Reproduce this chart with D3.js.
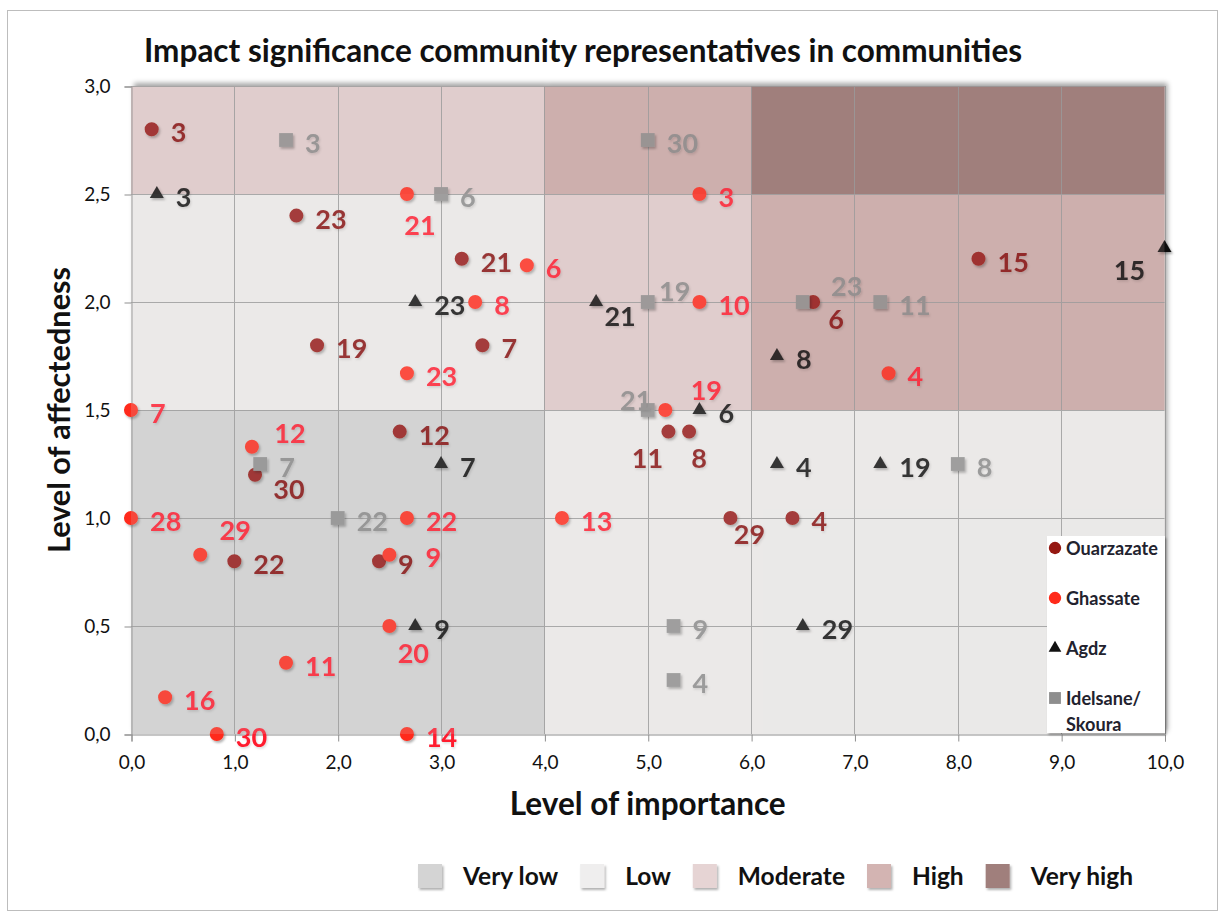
<!DOCTYPE html>
<html>
<head>
<meta charset="utf-8">
<script src="https://cdn.jsdelivr.net/npm/d3@7"></script>
<style>
  body { margin: 0; background: #fff; }
  svg { display: block; }
  text { font-family: Lato, "Open Sans", sans-serif; }
</style>
</head>
<body>
<svg id="chart" width="1222" height="915"></svg>
<script>
// Community representatives: [label, level of importance, level of affectedness]
const ouarzazate = [
  ["3", 0.2, 2.8], ["23", 1.6, 2.4], ["21", 3.2, 2.2], ["19", 1.8, 1.8], ["7", 3.4, 1.8],
  ["12", 2.6, 1.4], ["30", 1.2, 1.2], ["22", 1.0, 0.8], ["9", 2.4, 0.8], ["11", 5.2, 1.4],
  ["8", 5.4, 1.4], ["29", 5.8, 1.0], ["4", 6.4, 1.0], ["6", 6.6, 2.0], ["15", 8.2, 2.2]
];
const ghassate = [
  ["21", 2.67, 2.5], ["6", 3.83, 2.17], ["8", 3.33, 2.0], ["23", 2.67, 1.67], ["3", 5.5, 2.5],
  ["10", 5.5, 2.0], ["4", 7.33, 1.67], ["19", 5.17, 1.5], ["7", 0, 1.5], ["12", 1.17, 1.33],
  ["28", 0, 1.0], ["22", 2.67, 1.0], ["13", 4.17, 1.0], ["29", 0.67, 0.83], ["9", 2.5, 0.83],
  ["20", 2.5, 0.5], ["11", 1.5, 0.33], ["16", 0.33, 0.17], ["30", 0.83, 0], ["14", 2.67, 0]
];
const agdz = [
  ["3", 0.25, 2.5], ["23", 2.75, 2.0], ["21", 4.5, 2.0], ["15", 10, 2.25], ["8", 6.25, 1.75],
  ["6", 5.5, 1.5], ["7", 3.0, 1.25], ["4", 6.25, 1.25], ["19", 7.25, 1.25], ["9", 2.75, 0.5],
  ["29", 6.5, 0.5]
];
const idelsane = [
  ["3", 1.5, 2.75], ["6", 3.0, 2.5], ["30", 5.0, 2.75], ["19", 5.0, 2.0], ["23", 6.5, 2.0],
  ["11", 7.25, 2.0], ["21", 5.0, 1.5], ["7", 1.25, 1.25], ["22", 2.0, 1.0], ["8", 8.0, 1.25],
  ["9", 5.25, 0.5], ["4", 5.25, 0.25]
];

const seriesNames = ["Ouarzazate", "Ghassate", "Agdz", "Idelsane/ Skoura"];
const seriesData = [ouarzazate, ghassate, agdz, idelsane];

// Significance zones in data units
const zoneLevels = ["Very low", "Low", "Moderate", "High", "Very high"];
const zones = [
  { level: "Very low",  x: [0, 4],  y: [0, 1.5] },
  { level: "Low",       x: [0, 4],  y: [1.5, 2.5] },
  { level: "Low",       x: [4, 10], y: [0, 1.5] },
  { level: "Moderate",  x: [0, 4],  y: [2.5, 3] },
  { level: "Moderate",  x: [4, 6],  y: [1.5, 2.5] },
  { level: "High",      x: [4, 6],  y: [2.5, 3] },
  { level: "High",      x: [6, 10], y: [1.5, 2.5] },
  { level: "Very high", x: [6, 10], y: [2.5, 3] }
];

const xTicks = [0, 1, 2, 3, 4, 5, 6, 7, 8, 9, 10];
const yTicks = [0, 0.5, 1, 1.5, 2, 2.5, 3];

// ---- styling ----
const zoneColor = {
  "Very low": "#d3d3d3", "Low": "#ebe9e8", "Moderate": "#e0cdcd",
  "High": "#cdafad", "Very high": "#a07f7c"
};
const zoneSwatch = {
  "Very low": "#d4d4d4", "Low": "#efeeee", "Moderate": "#e6d4d4",
  "High": "#d3b4b2", "Very high": "#a07f7c"
};
const markerColor = ["#951812", "#ff2a1a", "#111111", "#8e8e8e"];
const labelColor  = ["#85110f", "#ff1a2e", "#111111", "#8a8a8a"];
const markerShape = [d3.symbolCircle, d3.symbolCircle, d3.symbolTriangle, d3.symbolSquare];
const markerSize  = [154, 154, 85, 190];

// Label centre offsets (px) for labels not sitting right of their marker
const labelNudge = {
  "Ghassate:21": [13, 31], "Agdz:15": [-35, 22], "Agdz:21": [24, 14],
  "Idelsane/ Skoura:19": [27, -11], "Idelsane/ Skoura:23": [44, -16],
  "Ouarzazate:6": [23, 17], "Ghassate:19": [41, -20], "Idelsane/ Skoura:21": [-12, -10],
  "Ouarzazate:11": [-21, 26], "Ouarzazate:8": [10, 26], "Ouarzazate:29": [19, 16],
  "Ghassate:12": [38, -14], "Ouarzazate:30": [34, 14], "Ghassate:29": [35, -25],
  "Ghassate:9": [44, 2], "Ghassate:20": [24, 27]
};

const svg = d3.select("#chart");
const defs = svg.append("defs");

const plotShadow = defs.append("filter").attr("id", "plotShadow")
  .attr("x", "-5%").attr("y", "-5%").attr("width", "110%").attr("height", "110%");
plotShadow.append("feDropShadow").attr("dx", 3).attr("dy", -3)
  .attr("stdDeviation", 2.5).attr("flood-color", "#000").attr("flood-opacity", 0.35);

const markShadow = defs.append("filter").attr("id", "markShadow")
  .attr("x", "-50%").attr("y", "-50%").attr("width", "200%").attr("height", "200%");
markShadow.append("feDropShadow").attr("dx", 1.5).attr("dy", 2)
  .attr("stdDeviation", 1.2).attr("flood-color", "#000").attr("flood-opacity", 0.3);

const textShadow = defs.append("filter").attr("id", "textShadow")
  .attr("x", "-20%").attr("y", "-20%").attr("width", "140%").attr("height", "140%");
textShadow.append("feDropShadow").attr("dx", 1).attr("dy", 1.5)
  .attr("stdDeviation", 0.8).attr("flood-color", "#000").attr("flood-opacity", 0.15);

function fitWidth(sel, target) {
  const w = sel.node().getComputedTextLength();
  const fs = parseFloat(sel.attr("font-size"));
  if (w > 0) sel.attr("font-size", (fs * target / w).toFixed(2));
  return sel;
}

// Outer frame
svg.append("rect").attr("x", 7.5).attr("y", 10.5).attr("width", 1210).attr("height", 900)
  .attr("fill", "#fff").attr("stroke", "#bdbdbd").attr("stroke-width", 1);

const x = d3.scaleLinear().domain([0, 10]).range([131, 1164.5]);
const y = d3.scaleLinear().domain([0, 3]).range([734, 86]);

const fmt = d3.formatLocale({ decimal: ",", thousands: ".", grouping: [3], currency: ["", ""] }).format(".1f");

// Zones (plot background)
const zoneG = svg.append("g").attr("filter", "url(#plotShadow)");
zoneG.selectAll("rect").data(zones).join("rect")
  .attr("x", d => x(d.x[0])).attr("y", d => y(d.y[1]))
  .attr("width", d => x(d.x[1]) - x(d.x[0])).attr("height", d => y(d.y[0]) - y(d.y[1]))
  .attr("fill", d => zoneColor[d.level]);

// Gridlines
const grid = svg.append("g").attr("stroke", "#9b9b9b").attr("stroke-width", 1);
grid.selectAll("line.v").data(xTicks.slice(1)).join("line").attr("class", "v")
  .attr("x1", d => Math.round(x(d)) + 0.5).attr("x2", d => Math.round(x(d)) + 0.5)
  .attr("y1", y(3)).attr("y2", y(0));
grid.selectAll("line.h").data(yTicks.slice(1)).join("line").attr("class", "h")
  .attr("x1", x(0)).attr("x2", x(10))
  .attr("y1", d => Math.round(y(d)) + 0.5).attr("y2", d => Math.round(y(d)) + 0.5);

// Axes
const xAxis = svg.append("g").attr("transform", `translate(0.5,${Math.round(y(0)) + 0.5})`)
  .call(d3.axisBottom(x).tickValues(xTicks).tickFormat(fmt).tickSize(7).tickPadding(14));
const yAxis = svg.append("g").attr("transform", `translate(${Math.round(x(0)) + 0.5},0.5)`)
  .call(d3.axisLeft(y).tickValues(yTicks).tickFormat(fmt).tickSize(7).tickPadding(14));
[xAxis, yAxis].forEach(a => {
  a.select(".domain").attr("stroke", "#8f8f8f");
  a.selectAll(".tick line").attr("stroke", "#8f8f8f");
  a.selectAll(".tick text").attr("fill", "#111").attr("font-size", 19)
    .attr("font-family", "Lato, sans-serif");
});

// Markers and labels
const symbol = d3.symbol();
seriesData.forEach((rows, i) => {
  const name = seriesNames[i];
  const g = svg.append("g").attr("class", "series");
  g.selectAll("path").data(rows).join("path")
    .attr("transform", d => `translate(${x(d[1])},${y(d[2])})`)
    .attr("d", symbol.type(markerShape[i]).size(markerSize[i])())
    .attr("fill", markerColor[i])
    .attr("filter", "url(#markShadow)");
  g.selectAll("text").data(rows).join("text")
    .each(function (d) {
      const t = d3.select(this);
      const nudge = labelNudge[name + ":" + d[0]];
      const px = x(d[1]), py = y(d[2]);
      if (nudge) {
        t.attr("x", px + nudge[0]).attr("y", py + nudge[1] + 10).attr("text-anchor", "middle");
      } else {
        t.attr("x", px + 19).attr("y", py + 13).attr("text-anchor", "start");
      }
    })
    .attr("font-size", 27).attr("font-weight", 700)
    .attr("fill", labelColor[i])
    .attr("filter", "url(#textShadow)")
    .text(d => d[0]);
});

// Translucent zone wash over the marks
svg.append("g").attr("pointer-events", "none").attr("opacity", 0.18)
  .selectAll("rect").data(zones).join("rect")
  .attr("x", d => x(d.x[0])).attr("y", d => y(d.y[1]))
  .attr("width", d => x(d.x[1]) - x(d.x[0])).attr("height", d => y(d.y[0]) - y(d.y[1]))
  .attr("fill", d => zoneColor[d.level]);

// Title
fitWidth(svg.append("text").attr("x", 144).attr("y", 62)
  .attr("font-size", 27).attr("font-weight", 700).attr("fill", "#111")
  .text("Impact significance community representatives in communities"), 878);

// Axis titles
fitWidth(svg.append("text").attr("x", (x(0) + x(10)) / 2).attr("y", 815)
  .attr("text-anchor", "middle").attr("font-size", 27).attr("font-weight", 700).attr("fill", "#111")
  .text("Level of importance"), 276);
fitWidth(svg.append("text").attr("transform", `translate(70,${(y(0) + y(3)) / 2}) rotate(-90)`)
  .attr("text-anchor", "middle").attr("font-size", 28).attr("font-weight", 700).attr("fill", "#111")
  .text("Level of affectedness"), 286);

// Series legend (inside plot, lower right)
const leg = svg.append("g");
leg.append("rect").attr("x", 1047).attr("y", 536).attr("width", 118).attr("height", 197)
  .attr("fill", "#fff").attr("filter", "url(#markShadow)");
const legRowY = [548, 598, 648, 698];
const probe = leg.append("text").attr("font-size", 17).attr("font-weight", 700).text(seriesNames[0]);
fitWidth(probe, 92);
const legFont = probe.attr("font-size");
probe.remove();
seriesNames.forEach((name, i) => {
  const cy = legRowY[i];
  leg.append("path").attr("transform", `translate(1055,${cy})`)
    .attr("d", symbol.type(markerShape[i]).size(i === 2 ? 70 : (i === 3 ? 140 : 120))())
    .attr("fill", markerColor[i]);
  const parts = name.split(" ");
  const t = leg.append("text").attr("x", 1066).attr("y", cy + 7)
    .attr("font-size", legFont).attr("font-weight", 700).attr("fill", "#22222e");
  parts.forEach((p, k) => {
    t.append("tspan").attr("x", 1066).attr("dy", k === 0 ? 0 : 26).text(p);
  });
});

// Zone legend (bottom)
const zleg = svg.append("g");
let cursor = 418;
zoneLevels.forEach(level => {
  zleg.append("rect").attr("x", cursor).attr("y", 864).attr("width", 24).attr("height", 24)
    .attr("fill", zoneSwatch[level]).attr("filter", "url(#markShadow)");
  const t = zleg.append("text").attr("x", cursor + 45).attr("y", 885)
    .attr("font-size", 24.5).attr("font-weight", 700).attr("fill", "#111").text(level);
  cursor += 45 + t.node().getComputedTextLength() + 22;
});
</script>
</body>
</html>
